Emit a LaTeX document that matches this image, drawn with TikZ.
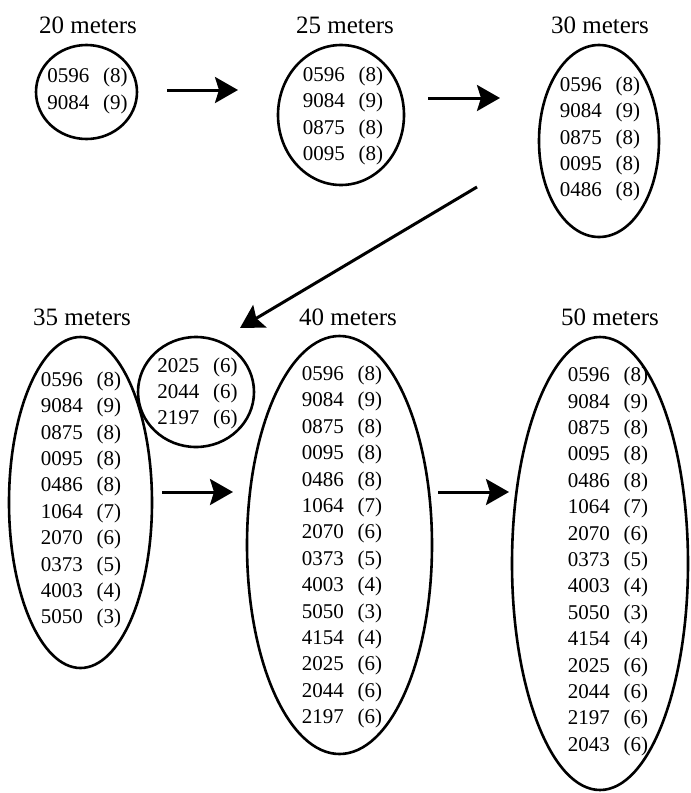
\documentclass[tikz,border=0pt]{standalone}
\usepackage{fontspec}
\setmainfont{Liberation Serif}
\usetikzlibrary{shapes.geometric,arrows.meta}
\newcommand{\ent}[2]{#1\hspace{14pt}(#2)}
\tikzset{
  oval/.style={draw, ellipse, line width=2.6pt, inner sep=0pt},
  entries/.style={align=left, font=\fontsize{21}{26.4}\selectfont, inner sep=0pt},
  title/.style={font=\fontsize{25}{28}\selectfont, anchor=base, inner sep=0pt},
  arr/.style={line width=3pt, -{Stealth[length=23pt,width=26pt,inset=4pt]}}
}
\begin{document}
\begin{tikzpicture}[x=1pt,y=1pt]
\useasboundingbox (0,0) rectangle (691,-793);
% titles
\node[title] (t20) at (88,-33) {20 meters};
\node[title] (t25) at (345,-33) {25 meters};
\node[title] (t30) at (600,-33) {30 meters};
\node[title] (t35) at (82,-325) {35 meters};
\node[title] (t40) at (348,-325) {40 meters};
\node[title] (t50) at (610,-325) {50 meters};
% ovals
\node[oval, minimum width=101pt, minimum height=94pt] (e20) at (86.5,-92) {};
\node[oval, minimum width=126pt, minimum height=140pt] (e25) at (341,-115) {};
\node[oval, minimum width=120pt, minimum height=192pt] (e30) at (599,-141) {};
\node[oval, minimum width=143pt, minimum height=331pt] (e35) at (80.5,-502.5) {};
\node[oval, minimum width=116pt, minimum height=110pt] (e35b) at (196,-392) {};
\node[oval, minimum width=185pt, minimum height=418pt] (e40) at (339.5,-545) {};
\node[oval, minimum width=176pt, minimum height=453pt] (e50) at (600,-563.5) {};
% entries
\node[entries] (l20) at (87.5,-91) {\ent{0596}{8}\\\ent{9084}{9}};
\node[entries] (l25) at (343,-116) {\ent{0596}{8}\\\ent{9084}{9}\\\ent{0875}{8}\\\ent{0095}{8}};
\node[entries] (l30) at (600,-139) {\ent{0596}{8}\\\ent{9084}{9}\\\ent{0875}{8}\\\ent{0095}{8}\\\ent{0486}{8}};
\node[entries] (l35) at (81,-500) {\ent{0596}{8}\\\ent{9084}{9}\\\ent{0875}{8}\\\ent{0095}{8}\\\ent{0486}{8}\\\ent{1064}{7}\\\ent{2070}{6}\\\ent{0373}{5}\\\ent{4003}{4}\\\ent{5050}{3}};
\node[entries] (l35b) at (197.5,-393.5) {\ent{2025}{6}\\\ent{2044}{6}\\\ent{2197}{6}};
\node[entries] (l40) at (342,-547) {\ent{0596}{8}\\\ent{9084}{9}\\\ent{0875}{8}\\\ent{0095}{8}\\\ent{0486}{8}\\\ent{1064}{7}\\\ent{2070}{6}\\\ent{0373}{5}\\\ent{4003}{4}\\\ent{5050}{3}\\\ent{4154}{4}\\\ent{2025}{6}\\\ent{2044}{6}\\\ent{2197}{6}};
\node[entries] (l50) at (608,-561.5) {\ent{0596}{8}\\\ent{9084}{9}\\\ent{0875}{8}\\\ent{0095}{8}\\\ent{0486}{8}\\\ent{1064}{7}\\\ent{2070}{6}\\\ent{0373}{5}\\\ent{4003}{4}\\\ent{5050}{3}\\\ent{4154}{4}\\\ent{2025}{6}\\\ent{2044}{6}\\\ent{2197}{6}\\\ent{2043}{6}};
% arrow end points
\coordinate (a1s) at (167,-90);  \coordinate (a1e) at (238,-90);
\coordinate (a2s) at (428,-98);  \coordinate (a2e) at (500,-98);
\coordinate (a3s) at (477,-187); \coordinate (a3e) at (240,-328);
\coordinate (a4s) at (162,-492); \coordinate (a4e) at (233,-492);
\coordinate (a5s) at (438,-492); \coordinate (a5e) at (509,-492);
\draw[arr] (a1s) -- (a1e);
\draw[arr] (a2s) -- (a2e);
\draw[arr] (a3s) -- (a3e);
\draw[arr] (a4s) -- (a4e);
\draw[arr] (a5s) -- (a5e);
\end{tikzpicture}
\end{document}
